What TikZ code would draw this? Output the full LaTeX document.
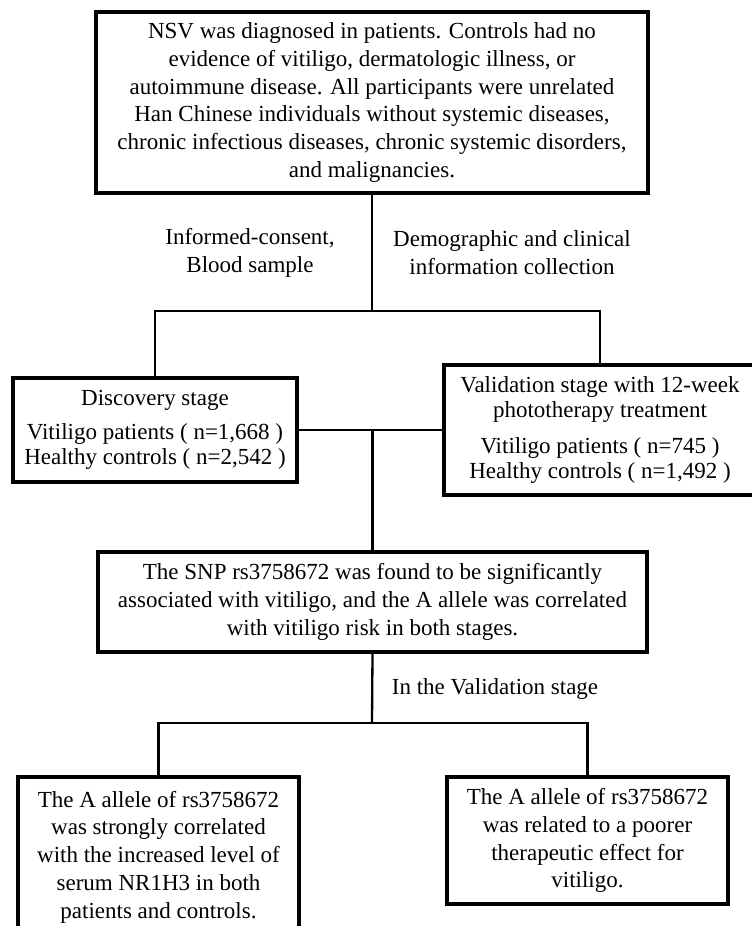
\documentclass[tikz,border=0pt]{standalone}
\usepackage{fontspec}
\setmainfont{Liberation Serif}
\usetikzlibrary{positioning}
\tikzset{
  box/.style      = {draw=black, line width=4pt, fill=white, align=center,
                     inner sep=0pt, font=\fontsize{23}{27.8}\selectfont},
  stagebox/.style = {box, font=\fontsize{23}{25}\selectfont},
  link/.style     = {draw=black, line width=2.3pt},
  lbl/.style      = {align=center, font=\fontsize{23}{27.8}\selectfont},
}

\begin{document}
\begin{tikzpicture}[x=1pt, y=-1pt]
  \useasboundingbox (0,0) rectangle (752,926);
  \fill[white] (0,0) rectangle (752,926);
  \clip (0,0) rectangle (752,926);
  % boxes
  \node[box, minimum width=552pt, minimum height=181pt] (top) at (372,102.5)
    {NSV was diagnosed in patients. Controls had no\\
     evidence of vitiligo, dermatologic illness, or\\
     autoimmune disease. All participants were unrelated\\
     Han Chinese individuals without systemic diseases,\\
     chronic infectious diseases, chronic systemic disorders,\\
     and malignancies.};
  \node[stagebox, minimum width=284pt, minimum height=104pt] (disc) at (155,430)
    {Discovery stage\\[9pt]
     Vitiligo patients ( n=1,668 )\\
     Healthy controls ( n=2,542 )};
  \node[stagebox, minimum width=312pt, minimum height=130pt] (valid) at (600,430)
    {Validation stage with 12-week\\
     phototherapy treatment\\[11pt]
     Vitiligo patients ( n=745 )\\
     Healthy controls ( n=1,492 )};
  \node[box, minimum width=549pt, minimum height=100pt] (snp) at (372.5,602)
    {The SNP rs3758672 was found to be significantly\\
     associated with vitiligo, and the A allele was correlated\\
     with vitiligo risk in both stages.};
  \node[box, minimum width=281pt, minimum height=160pt] (nr1h3) at (158.5,857)
    {The A allele of rs3758672\\
     was strongly correlated\\
     with the increased level of\\
     serum NR1H3 in both\\
     patients and controls.};
  \node[box, minimum width=281pt, minimum height=127pt] (effect) at (587.5,840.5)
    {The A allele of rs3758672\\
     was related to a poorer\\
     therapeutic effect for\\
     vitiligo.};
  % labels
  \node[lbl] (consent) at (250,253) {Informed-consent,\\Blood sample};
  \node[lbl] (collect) at (512,253) {Demographic and clinical\\information collection};
  \node[lbl] (inval) at (495,689) {In the Validation stage};
  % connectors
  \coordinate (split1) at (372,311);
  \coordinate (split3) at (372,723);
  \draw[link] (top.south) -- (split1);
  \draw[link] (disc.north) |- (split1) -| (valid.north);
  \draw[link] (disc.east) -- (valid.west);
  \coordinate (split2) at (snp.north |- disc.east);
  \draw[link] (split2) -- (snp.north);
  \draw[link] (snp.south) -- (split3);
  \draw[link] (nr1h3.north) |- (split3) -| (effect.north);
\end{tikzpicture}
\end{document}
